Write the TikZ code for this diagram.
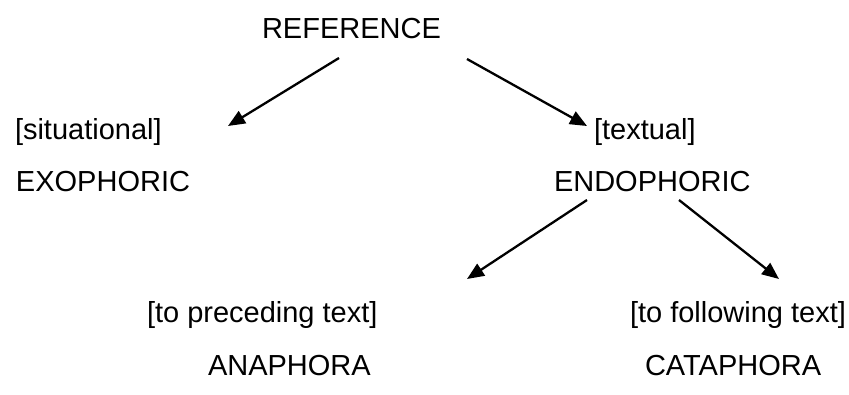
\documentclass[tikz,border=0pt]{standalone}
\usepackage{fontspec}
\setmainfont{Liberation Sans}
\usetikzlibrary{arrows.meta}
\begin{document}
\begin{tikzpicture}[x=1pt,y=-1pt,
  lbl/.style={anchor=base west,inner sep=0pt,outer sep=0pt,font=\fontsize{29}{34}\selectfont},
  branch/.style={line width=2.3pt,-{Triangle[length=17pt,width=14pt]}}]
  \useasboundingbox (0,0) rectangle (849,394);

  % labels
  \node[lbl] (ref)   at (262,38)  {REFERENCE};
  \node[lbl] (sit)   at (15,139)  {[situational]};
  \node[lbl] (exo)   at (16,191)  {EXOPHORIC};
  \node[lbl] (txt)   at (594,139) {[textual]};
  \node[lbl] (endo)  at (554,191) {ENDOPHORIC};
  \node[lbl] (prec)  at (147,322) {[to preceding text]};
  \node[lbl] (ana)   at (208,375) {ANAPHORA};
  \node[lbl] (foll)  at (630,322) {[to following text]};
  \node[lbl] (cata)  at (645,375) {CATAPHORA};

  % arrow end points
  \coordinate (r1) at (339,58);
  \coordinate (r2) at (228,126);
  \coordinate (r3) at (467,59);
  \coordinate (r4) at (587,126);
  \coordinate (e1) at (587,200);
  \coordinate (e2) at (467,279);
  \coordinate (e3) at (679,200);
  \coordinate (e4) at (779,279);

  % branches
  \draw[branch] (r1) -- (r2);
  \draw[branch] (r3) -- (r4);
  \draw[branch] (e1) -- (e2);
  \draw[branch] (e3) -- (e4);
\end{tikzpicture}
\end{document}
